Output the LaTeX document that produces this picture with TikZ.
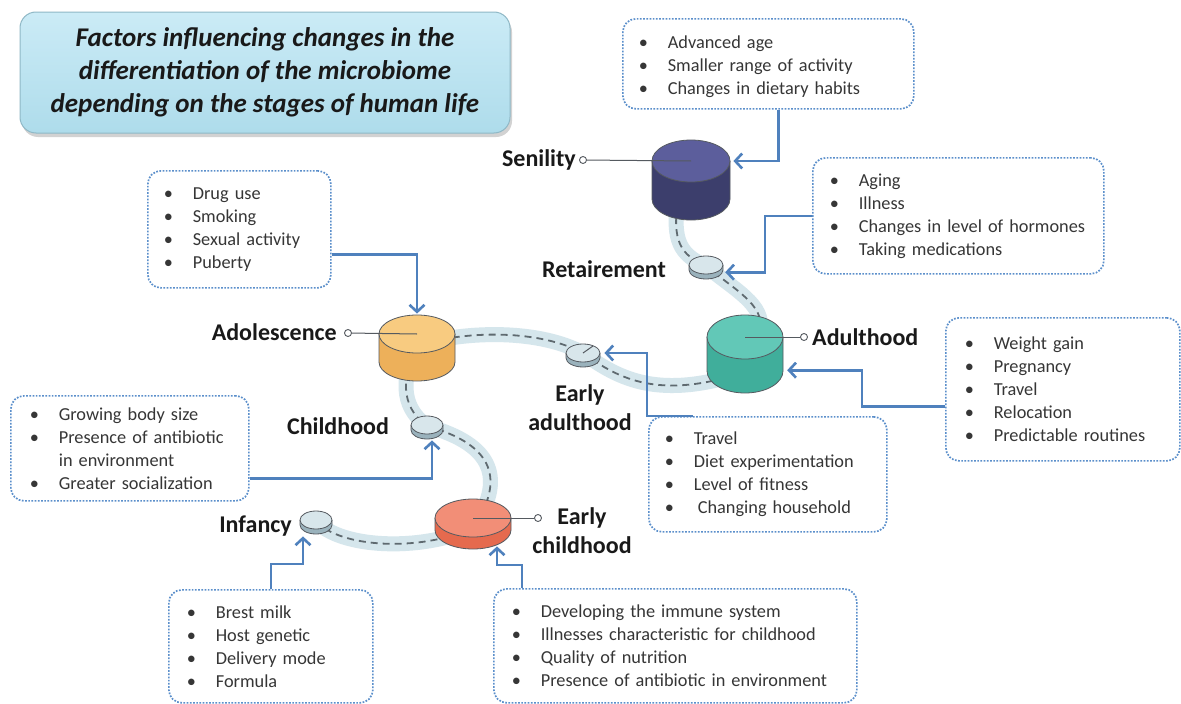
\documentclass[tikz,border=0pt]{standalone}
\usepackage{fontspec}
\setmainfont{Carlito}
\usetikzlibrary{calc,arrows.meta,shapes.geometric,shadows}
\definecolor{boxblue}{HTML}{5B8FCB}
\definecolor{arrblue}{HTML}{4F81BD}
\definecolor{bandcol}{HTML}{D5E6EC}
\definecolor{dashcol}{HTML}{5F6A70}
\definecolor{textgray}{HTML}{363636}
\definecolor{cyledge}{HTML}{555A60}
\definecolor{titletop}{HTML}{CBEBF6}
\definecolor{titlebot}{HTML}{AEDCEB}
\definecolor{titleedge}{HTML}{8FB8C6}
\definecolor{senTop}{HTML}{5C5E9C}
\definecolor{senSide}{HTML}{3C3E6C}
\definecolor{aduTop}{HTML}{62C8B7}
\definecolor{aduSide}{HTML}{40AE9B}
\definecolor{adoTop}{HTML}{F8CB80}
\definecolor{adoSide}{HTML}{EDB05A}
\definecolor{echTop}{HTML}{F28E77}
\definecolor{echSide}{HTML}{E56A4E}
\definecolor{discTop}{HTML}{D8E6EB}
\definecolor{discSide}{HTML}{9AB2BC}
\newcommand\itm[1]{\mbox{\makebox[29pt][l]{\textbullet}#1}}
% name, cx, cy, rx, ry, h, top, side
\newcommand\cyl[8]{%
  \fill[#8] ({#2-#4},#3) -- ({#2-#4},{#3+#6}) arc[start angle=180,end angle=360,x radius=#4pt,y radius=#5pt] -- ({#2+#4},#3) -- cycle;
  \draw[cyledge, line width=0.8pt] ({#2-#4},#3) -- ({#2-#4},{#3+#6}) arc[start angle=180,end angle=360,x radius=#4pt,y radius=#5pt] -- ({#2+#4},#3);
  \node[ellipse, draw=cyledge, line width=0.8pt, fill=#7, minimum width={2*#4pt}, minimum height={2*#5pt}, inner sep=0pt] (#1) at (#2,#3) {};
  \node[inner sep=0pt, minimum width={2*#4pt}, minimum height={(#6+#5)*1pt}, anchor=north] (#1-s) at (#2,#3) {};
}
\tikzset{
  fbox/.style={draw=boxblue, line width=1.7pt, dash pattern=on 1.7pt off 1.5pt, rounded corners=13pt, anchor=north west, align=left, text=textgray, font=\fontsize{18.3}{23}\selectfont, inner ysep=0pt},
  arr/.style={draw=arrblue, line width=2.6pt, -{Straight Barb[length=7pt,width=15pt]}},
  lab/.style={font=\fontsize{24}{29}\selectfont\bfseries, inner sep=0pt, align=center, text=black!90},
  leader/.style={draw=cyledge, line width=1pt},
  dot/.style={circle, draw=cyledge, fill=white, line width=0.9pt, inner sep=0pt, minimum size=7pt},
}
\begin{document}
\begin{tikzpicture}[x=1pt,y=-1pt]
\useasboundingbox (0,0) rectangle (1181,704);
\fill[white] (0,0) rectangle (1181,704);

% title
\node[draw=titleedge, line width=1pt, rounded corners=16pt, top color=titletop, bottom color=titlebot,
  drop shadow={shadow xshift=2pt, shadow yshift=-4pt, opacity=0.35},
  minimum width=490pt, minimum height=121pt, align=center, text=black!90,
  font=\fontsize{27}{33}\selectfont\bfseries\itshape] (title) at (265,72.5)
  {Factors influencing changes in the\\differentiation of the microbiome\\depending on the stages of human life};

% life path
\def\lifepath{(316,521) .. controls (340,548) and (420,552) .. (473,528)
  .. controls (505,480) and (495,445) .. (427,426)
  .. controls (405,410) and (398,385) .. (417,345)
  .. controls (470,330) and (540,330) .. (583,353)
  .. controls (620,380) and (660,400) .. (745,372)
  -- (760,330) .. controls (765,305) and (735,290) .. (706,266)
  .. controls (680,255) and (672,240) .. (678,200)}
\draw[bandcol, line width=15pt, line cap=round, line join=round] \lifepath;
\draw[dashcol, line width=1.8pt, dash pattern=on 7pt off 5pt] \lifepath;

% stages
\cyl{sen}{691}{161}{39}{21}{38}{senTop}{senSide}
\cyl{adu}{745}{337}{38}{22}{34}{aduTop}{aduSide}
\cyl{ado}{417}{334}{38}{19}{28}{adoTop}{adoSide}
\cyl{ech}{473}{518}{38}{19}{12}{echTop}{echSide}
\cyl{ret}{706}{265}{17}{9}{5}{discTop}{discSide}
\cyl{eadu}{583}{353}{17}{9}{5}{discTop}{discSide}
\cyl{chi}{427}{425}{16}{9}{5}{discTop}{discSide}
\cyl{inf}{316}{520}{16}{9}{5}{discTop}{discSide}

% labels and leaders
\node[lab, anchor=base east] (lsen) at (576,166) {Senility};
\node[dot] (dsen) at (583,160) {};
\draw[leader] (sen.center) -- (dsen);
\node[lab, anchor=base] (lret) at (604,277) {Retairement};
\node[lab, anchor=base west] (ladu) at (812,345) {Adulthood};
\node[dot] (dadu) at (804,337) {};
\draw[leader] (adu.center) -- (dadu);
\node[lab] (leadu) at (580,408) {Early\\adulthood};
\draw[leader] (eadu.center) -- ++(10,-7);
\node[lab, anchor=base east] (lado) at (337,340) {Adolescence};
\node[dot] (dado) at (348,333) {};
\draw[leader] (ado.center) -- (dado);
\node[lab, anchor=base] (lchi) at (338,434) {Childhood};
\node[lab, anchor=base east] (linf) at (292,532) {Infancy};
\node[lab] (lech) at (582,531) {Early\\childhood};
\node[dot] (dech) at (538,518) {};
\draw[leader] (ech.center) -- (dech);

% factor boxes
\node[fbox, minimum width=291pt, minimum height=90pt, inner xsep=16pt, text width=259pt] (bsen) at (622,18)
  {\rule{0pt}{19pt}\itm{Advanced age}\\\itm{Smaller range of activity}\\\itm{Changes in dietary habits}};
\node[fbox, minimum width=291pt, minimum height=116pt, inner xsep=17pt, text width=257pt] (bret) at (812,157)
  {\itm{Aging}\\\itm{Illness}\\\itm{Changes in level of hormones}\\\itm{Taking medications}};
\node[fbox, minimum width=234pt, minimum height=143pt, inner xsep=19pt, text width=196pt] (badu) at (945,317)
  {\itm{Weight gain}\\\itm{Pregnancy}\\\itm{Travel}\\\itm{Relocation}\\\itm{Predictable routines}};
\node[fbox, minimum width=238pt, minimum height=115pt, inner xsep=16pt, text width=206pt] (beadu) at (648,416)
  {\itm{Travel}\\\itm{Diet experimentation}\\\itm{Level of fitness}\\\itm{\hspace{4pt}Changing household}};
\node[fbox, minimum width=183pt, minimum height=117pt, inner xsep=16pt, text width=151pt] (bado) at (147,170)
  {\itm{Drug use}\\\itm{Smoking}\\\itm{Sexual activity}\\\itm{Puberty}};
\node[fbox, minimum width=238pt, minimum height=105pt, inner xsep=19pt, text width=200pt] (bchi) at (10,395)
  {\itm{Growing body size}\\\itm{Presence of antibiotic}\\\hspace*{29pt}in environment\\\itm{Greater socialization}};
\node[fbox, minimum width=204pt, minimum height=113pt, inner xsep=18pt, text width=168pt] (binf) at (168,589)
  {\itm{Brest milk}\\\itm{Host genetic}\\\itm{Delivery mode}\\\itm{Formula}};
\node[fbox, minimum width=363pt, minimum height=114pt, inner xsep=18pt, text width=327pt] (bech) at (493,588)
  {\itm{Developing the immune system}\\\itm{Illnesses characteristic for childhood}\\\itm{Quality of nutrition}\\\itm{Presence of antibiotic in environment}};

% connectors
\draw[arr] ($(bsen.south)+(10,0)$) |- ($(sen.east)+(3,0)$);
\draw[arr] (bret.west) -- ++(-47,0) |- ($(ret-s.east)+(2,0)$);
\draw[arr] ($(badu.west)+(0,17)$) -- ++(-83,0) |- ($(adu-s.east)+(4,5)$);
\draw[arr] ($(beadu.north west)+(45,0)$) -- ++(-46,0) |- ($(eadu.east)+(4,0)$);
\draw[arr] ($(bado.east)+(0,25)$) -| ($(ado.north)+(0,-1)$);
\draw[arr] ($(bchi.east)+(0,30)$) -| ($(chi-s.south)+(5,1)$);
\draw[arr] (binf.north) -- ++(0,-25) -| ($(inf-s.south)+(-13,2)$);
\draw[arr] ($(bech.north west)+(29,0)$) -- ++(0,-23) -| ($(ech-s.south)+(24,-3)$);
\end{tikzpicture}
\end{document}
